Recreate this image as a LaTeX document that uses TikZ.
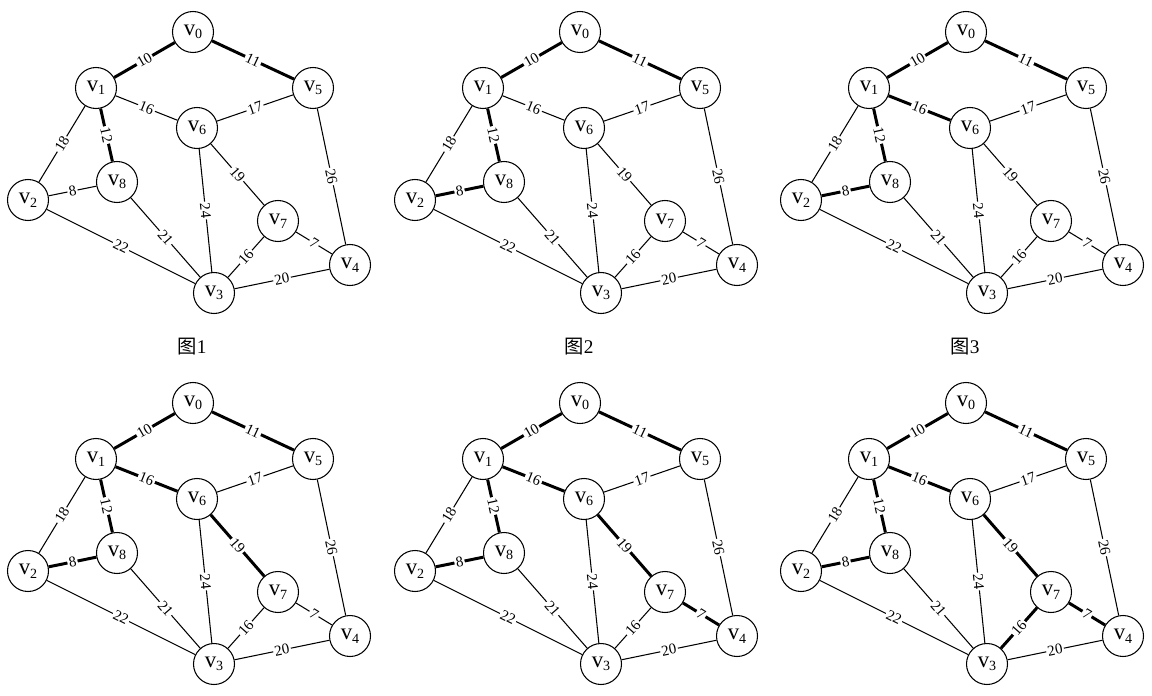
\documentclass[tikz,border=0pt]{standalone}
\usepackage{fontspec}
\setmainfont{Liberation Serif}
\newfontfamily\cjk{Noto Sans CJK SC}

\begin{document}
\begin{tikzpicture}[
        vert/.style={draw, circle, line width=0.6pt, minimum size=0.82cm, inner sep=0pt,
            fill=white, font=\fontsize{13}{13}\selectfont},
        wgt/.style={fill=white, inner sep=0.8pt, sloped, font=\fontsize{8.5}{8.5}\selectfont},
        lite/.style={line width=0.6pt},
        heavy/.style={line width=1.7pt},
        capt/.style={font=\fontsize{11}{11}\selectfont}]
    \useasboundingbox (0,0) rectangle (23.04,-13.92);
    \foreach \p/\dx/\dy/\k in {a/0/0/3, b/7.74/0/4, c/15.46/0/5, d/0/-7.42/6, e/7.74/-7.42/7, f/15.46/-7.42/8} {
        \begin{scope}[shift={(\dx,\dy)}]
            \foreach \n/\x/\y in {0/3.86/-0.64, 1/1.92/-1.76, 2/0.56/-4.00, 3/4.28/-5.86, 4/7.00/-5.30,
                    5/6.26/-1.76, 6/3.94/-2.56, 7/5.56/-4.42, 8/2.34/-3.64}
                \node[vert] (\p\n) at (\x,\y) {v\raisebox{-2pt}{\fontsize{8}{8}\selectfont\n}};
        \end{scope}
        \foreach \va/\vb/\w [count=\i] in {0/1/10, 0/5/11, 1/8/12, 2/8/8, 1/6/16, 6/7/19, 7/4/7, 7/3/16,
                1/2/18, 2/3/22, 8/3/21, 6/5/17, 6/3/24, 5/4/26, 3/4/20} {
            \ifnum\i>\k \def\ew{lite}\else \def\ew{heavy}\fi
            \draw[\ew] (\p\va) -- node[wgt]{\w} (\p\vb);
        }
    }
    \foreach \c/\cx in {1/3.84, 2/11.58, 3/19.30}
        \node[capt] (cap\c) at (\cx,-6.94) {{\cjk 图}\c};
\end{tikzpicture}
\end{document}
